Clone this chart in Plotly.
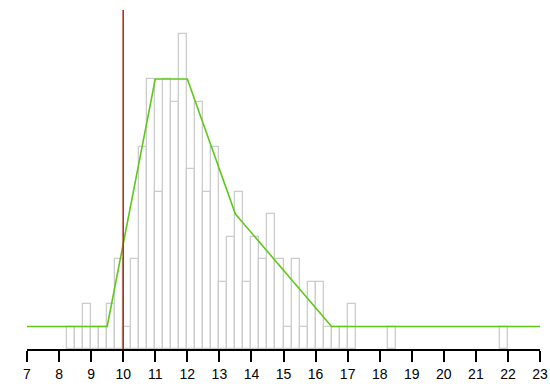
import plotly.graph_objects as go

# ----------------------------
# Data
# ----------------------------
bin_width = 0.25
bin_left = [8.25, 8.5, 8.75, 9.0, 9.25, 9.5, 9.75, 10.0, 10.25, 10.5, 10.75,
            11.0, 11.25, 11.5, 11.75, 12.0, 12.25, 12.5, 12.75, 13.0, 13.25,
            13.5, 13.75, 14.0, 14.25, 14.5, 14.75, 15.0, 15.25, 15.5, 15.75,
            16.0, 16.25, 16.5, 16.75, 17.0, 18.25, 21.75]
counts = [1, 1, 2, 1, 1, 2, 4, 1, 4, 9, 12,
          7, 12, 11, 14, 8, 11, 7, 9, 3, 5,
          7, 3, 5, 4, 6, 4, 1, 4, 1, 3,
          3, 1, 1, 1, 2, 1, 1]

# piecewise-linear curve (green)
curve_x = [7, 9.5, 11, 12, 13.5, 16.5, 23]
curve_y = [1, 1, 12, 12, 6, 1, 1]

# vertical marker (red)
threshold = 10

x_ticks = list(range(7, 24))

# ----------------------------
# Figure
# ----------------------------
fig = go.Figure()

fig.add_trace(
    go.Bar(
        x=[b + bin_width / 2 for b in bin_left],
        y=counts,
        width=bin_width,
        marker=dict(color="rgba(255,255,255,0)",
                    line=dict(color="#cccccc", width=1.3)),
        hoverinfo="x+y",
        showlegend=False,
    )
)

fig.add_trace(
    go.Scatter(
        x=curve_x,
        y=curve_y,
        mode="lines",
        line=dict(color="#5ec81a", width=1.6),
        showlegend=False,
    )
)

fig.add_vline(x=threshold, line=dict(color="#b3301c", width=1.6))

fig.update_layout(
    width=550,
    height=388,
    margin=dict(l=27, r=10, t=10, b=39, autoexpand=False),
    paper_bgcolor="white",
    plot_bgcolor="white",
    bargap=0,
    font=dict(family="Liberation Sans, Arial, sans-serif", size=14, color="black"),
)

fig.update_xaxes(
    range=[7, 23],
    tickvals=x_ticks,
    ticks="outside",
    ticklen=11,
    tickwidth=1.6,
    tickcolor="black",
    showline=True,
    linecolor="black",
    linewidth=1.6,
    showgrid=False,
    zeroline=False,
    automargin=False,
)

fig.update_yaxes(
    range=[0, 15.07],
    visible=False,
    showgrid=False,
    zeroline=False,
)

# drop the default 8px body margin so the figure fills the window exactly
fig.write_html(
    "out.html",
    config={"displayModeBar": False},
    post_script="document.body.style.margin='0';document.body.style.overflow='hidden';",
)
